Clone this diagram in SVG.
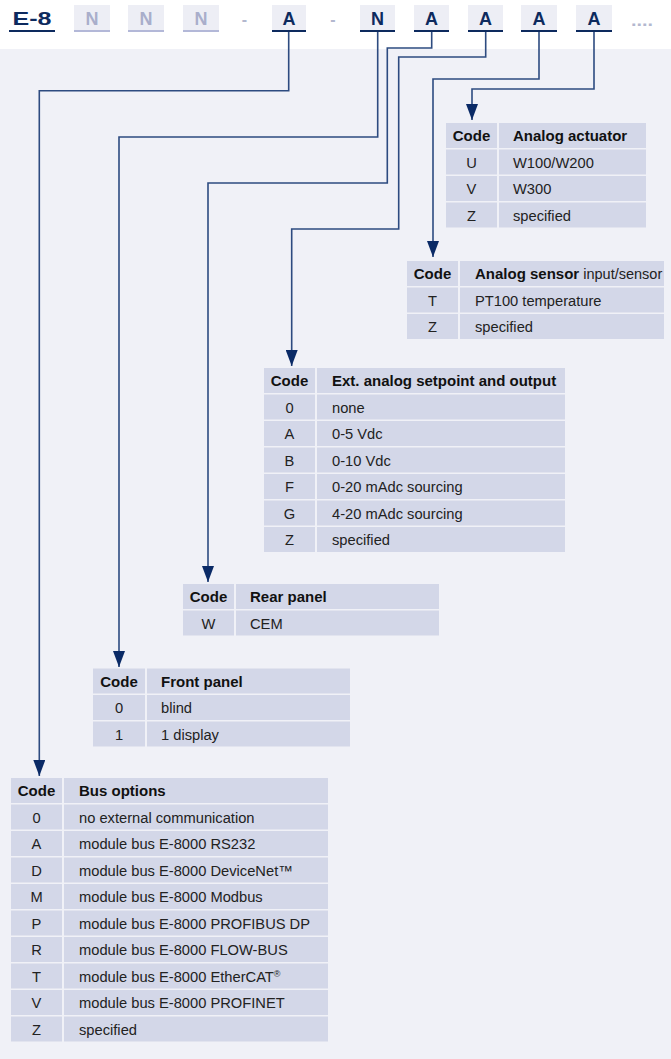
<svg xmlns="http://www.w3.org/2000/svg" width="671" height="1059" viewBox="0 0 671 1059">
<defs>
<style>
text{font-family:"Liberation Sans",Arial,sans-serif;}
.hl{font-size:18px;font-weight:bold;text-anchor:middle;}
.hn{fill:#a9aecb;}
.ha{fill:#0d2a5e;}
.hbox{fill:#edeef5;}
.ulA{stroke:#0d2a5e;stroke-width:2;}
.ulN{stroke:#b3b8d8;stroke-width:2;}
.dash{fill:#b3b8cf;font-size:16px;font-weight:bold;text-anchor:middle;}
.cell{fill:#d3d7e8;}
.th{font-size:15px;font-weight:bold;fill:#111;}
.td{font-size:14.7px;fill:#222;}
.c{text-anchor:middle;}
.conn{fill:none;stroke:#2d4b80;stroke-width:1.6;}
</style>
<marker id="arr" viewBox="0 -6 16 12" refX="16" refY="0" markerWidth="16" markerHeight="12" markerUnits="userSpaceOnUse" orient="auto">
<path d="M0,-6 L16,0 L0,6 z" fill="#0a2a66"/>
</marker>
</defs>
<rect x="0" y="0" width="671" height="1059" fill="#f0f1f7"/>
<rect x="0" y="0" width="671" height="49" fill="#ffffff"/>

<g id="header">
<text class="hl ha" x="32" y="25" textLength="39" lengthAdjust="spacingAndGlyphs">E-8</text>
<line class="ulA" x1="9" y1="31" x2="55" y2="31"/>
<rect class="hbox" x="74" y="5" width="36" height="26"/>
<text class="hl hn" x="92" y="25">N</text>
<line class="ulN" x1="74" y1="31" x2="110" y2="31"/>
<rect class="hbox" x="128" y="5" width="36" height="26"/>
<text class="hl hn" x="146" y="25">N</text>
<line class="ulN" x1="128" y1="31" x2="164" y2="31"/>
<rect class="hbox" x="183" y="5" width="36" height="26"/>
<text class="hl hn" x="201" y="25">N</text>
<line class="ulN" x1="183" y1="31" x2="219" y2="31"/>
<text class="dash" x="244.5" y="25">-</text>
<rect class="hbox" x="272" y="5" width="34" height="26"/>
<text class="hl ha" x="289" y="25">A</text>
<line class="ulA" x1="272" y1="31" x2="306" y2="31"/>
<text class="dash" x="333" y="25">-</text>
<rect class="hbox" x="360" y="5" width="35" height="26"/>
<text class="hl ha" x="377.5" y="25">N</text>
<line class="ulA" x1="360" y1="31" x2="395" y2="31"/>
<rect class="hbox" x="414" y="5" width="35" height="26"/>
<text class="hl ha" x="431.5" y="25">A</text>
<line class="ulA" x1="414" y1="31" x2="449" y2="31"/>
<rect class="hbox" x="468" y="5" width="35" height="26"/>
<text class="hl ha" x="485.5" y="25">A</text>
<line class="ulA" x1="468" y1="31" x2="503" y2="31"/>
<rect class="hbox" x="521" y="5" width="36" height="26"/>
<text class="hl ha" x="539" y="25">A</text>
<line class="ulA" x1="521" y1="31" x2="557" y2="31"/>
<rect class="hbox" x="576" y="5" width="36" height="26"/>
<text class="hl ha" x="594" y="25">A</text>
<line class="ulA" x1="576" y1="31" x2="612" y2="31"/>
<text class="dash" x="642" y="26" textLength="22" lengthAdjust="spacingAndGlyphs">....</text>
</g>

<g id="connectors">
<path class="conn" marker-end="url(#arr)" d="M288.7,32 V90.7 H39.3 V776"/>
<path class="conn" marker-end="url(#arr)" d="M377.7,32 V137 H119 V667"/>
<path class="conn" marker-end="url(#arr)" d="M431.7,32 V48 H387.3 V183 H208 V582"/>
<path class="conn" marker-end="url(#arr)" d="M485.7,32 V57 H398.7 V229 H291.7 V366"/>
<path class="conn" marker-end="url(#arr)" d="M539,32 V79 H433 V257"/>
<path class="conn" marker-end="url(#arr)" d="M594,32 V89 H472 V120"/>
</g>

<g id="analog-actuator">
<rect class="cell" x="446" y="123" width="51" height="25"/><rect class="cell" x="499" y="123" width="147" height="25"/>
<rect class="cell" x="446" y="149.5" width="51" height="25"/><rect class="cell" x="499" y="149.5" width="147" height="25"/>
<rect class="cell" x="446" y="176" width="51" height="25"/><rect class="cell" x="499" y="176" width="147" height="25"/>
<rect class="cell" x="446" y="202.5" width="51" height="25"/><rect class="cell" x="499" y="202.5" width="147" height="25"/>
<text class="th c" x="471.5" y="141">Code</text><text class="th" x="513" y="141">Analog actuator</text>
<text class="td c" x="471.5" y="167.5">U</text><text class="td" x="513" y="167.5">W100/W200</text>
<text class="td c" x="471.5" y="194">V</text><text class="td" x="513" y="194">W300</text>
<text class="td c" x="471.5" y="220.5">Z</text><text class="td" x="513" y="220.5">specified</text>
</g>

<g id="analog-sensor">
<rect class="cell" x="407" y="261" width="51" height="25"/><rect class="cell" x="460" y="261" width="204" height="25"/>
<rect class="cell" x="407" y="287.5" width="51" height="25"/><rect class="cell" x="460" y="287.5" width="204" height="25"/>
<rect class="cell" x="407" y="314" width="51" height="25"/><rect class="cell" x="460" y="314" width="204" height="25"/>
<text class="th c" x="432.5" y="279">Code</text><text class="th" x="475" y="279">Analog sensor<tspan font-weight="normal" font-size="14.5px" fill="#222"> input/sensor</tspan></text>
<text class="td c" x="432.5" y="305.5">T</text><text class="td" x="475" y="305.5">PT100 temperature</text>
<text class="td c" x="432.5" y="332">Z</text><text class="td" x="475" y="332">specified</text>
</g>

<g id="ext-analog">
<rect class="cell" x="264" y="368" width="51" height="25"/><rect class="cell" x="317" y="368" width="248" height="25"/>
<rect class="cell" x="264" y="394.5" width="51" height="25"/><rect class="cell" x="317" y="394.5" width="248" height="25"/>
<rect class="cell" x="264" y="421" width="51" height="25"/><rect class="cell" x="317" y="421" width="248" height="25"/>
<rect class="cell" x="264" y="447.5" width="51" height="25"/><rect class="cell" x="317" y="447.5" width="248" height="25"/>
<rect class="cell" x="264" y="474" width="51" height="25"/><rect class="cell" x="317" y="474" width="248" height="25"/>
<rect class="cell" x="264" y="500.5" width="51" height="25"/><rect class="cell" x="317" y="500.5" width="248" height="25"/>
<rect class="cell" x="264" y="527" width="51" height="25"/><rect class="cell" x="317" y="527" width="248" height="25"/>
<text class="th c" x="289.5" y="386">Code</text><text class="th" x="332" y="386">Ext. analog setpoint and output</text>
<text class="td c" x="289.5" y="412.5">0</text><text class="td" x="332" y="412.5">none</text>
<text class="td c" x="289.5" y="439">A</text><text class="td" x="332" y="439">0-5 Vdc</text>
<text class="td c" x="289.5" y="465.5">B</text><text class="td" x="332" y="465.5">0-10 Vdc</text>
<text class="td c" x="289.5" y="492">F</text><text class="td" x="332" y="492">0-20 mAdc sourcing</text>
<text class="td c" x="289.5" y="518.5">G</text><text class="td" x="332" y="518.5">4-20 mAdc sourcing</text>
<text class="td c" x="289.5" y="545">Z</text><text class="td" x="332" y="545">specified</text>
</g>

<g id="rear-panel">
<rect class="cell" x="183" y="584" width="51" height="25"/><rect class="cell" x="236" y="584" width="203" height="25"/>
<rect class="cell" x="183" y="610.5" width="51" height="25"/><rect class="cell" x="236" y="610.5" width="203" height="25"/>
<text class="th c" x="208.5" y="602">Code</text><text class="th" x="250" y="602">Rear panel</text>
<text class="td c" x="208.5" y="628.5">W</text><text class="td" x="250" y="628.5">CEM</text>
</g>

<g id="front-panel">
<rect class="cell" x="93" y="668.5" width="52" height="25"/><rect class="cell" x="147" y="668.5" width="203" height="25"/>
<rect class="cell" x="93" y="695" width="52" height="25"/><rect class="cell" x="147" y="695" width="203" height="25"/>
<rect class="cell" x="93" y="721.5" width="52" height="25"/><rect class="cell" x="147" y="721.5" width="203" height="25"/>
<text class="th c" x="119" y="686.5">Code</text><text class="th" x="161" y="686.5">Front panel</text>
<text class="td c" x="119" y="713">0</text><text class="td" x="161" y="713">blind</text>
<text class="td c" x="119" y="739.5">1</text><text class="td" x="161" y="739.5">1 display</text>
</g>

<g id="bus-options">
<rect class="cell" x="11" y="778" width="51" height="25"/><rect class="cell" x="64" y="778" width="264" height="25"/>
<rect class="cell" x="11" y="804.5" width="51" height="25"/><rect class="cell" x="64" y="804.5" width="264" height="25"/>
<rect class="cell" x="11" y="831" width="51" height="25"/><rect class="cell" x="64" y="831" width="264" height="25"/>
<rect class="cell" x="11" y="857.5" width="51" height="25"/><rect class="cell" x="64" y="857.5" width="264" height="25"/>
<rect class="cell" x="11" y="884" width="51" height="25"/><rect class="cell" x="64" y="884" width="264" height="25"/>
<rect class="cell" x="11" y="910.5" width="51" height="25"/><rect class="cell" x="64" y="910.5" width="264" height="25"/>
<rect class="cell" x="11" y="937" width="51" height="25"/><rect class="cell" x="64" y="937" width="264" height="25"/>
<rect class="cell" x="11" y="963.5" width="51" height="25"/><rect class="cell" x="64" y="963.5" width="264" height="25"/>
<rect class="cell" x="11" y="990" width="51" height="25"/><rect class="cell" x="64" y="990" width="264" height="25"/>
<rect class="cell" x="11" y="1016.5" width="51" height="25"/><rect class="cell" x="64" y="1016.5" width="264" height="25"/>
<text class="th c" x="36.5" y="796">Code</text><text class="th" x="79" y="796">Bus options</text>
<text class="td c" x="36.5" y="822.5">0</text><text class="td" x="79" y="822.5">no external communication</text>
<text class="td c" x="36.5" y="849">A</text><text class="td" x="79" y="849">module bus E-8000 RS232</text>
<text class="td c" x="36.5" y="875.5">D</text><text class="td" x="79" y="875.5">module bus E-8000 DeviceNet™</text>
<text class="td c" x="36.5" y="902">M</text><text class="td" x="79" y="902">module bus E-8000 Modbus</text>
<text class="td c" x="36.5" y="928.5">P</text><text class="td" x="79" y="928.5">module bus E-8000 PROFIBUS DP</text>
<text class="td c" x="36.5" y="955">R</text><text class="td" x="79" y="955">module bus E-8000 FLOW-BUS</text>
<text class="td c" x="36.5" y="981.5">T</text><text class="td" x="79" y="981.5">module bus E-8000 EtherCAT<tspan font-size="9px" dy="-5">®</tspan></text>
<text class="td c" x="36.5" y="1008">V</text><text class="td" x="79" y="1008">module bus E-8000 PROFINET</text>
<text class="td c" x="36.5" y="1034.5">Z</text><text class="td" x="79" y="1034.5">specified</text>
</g>
</svg>
